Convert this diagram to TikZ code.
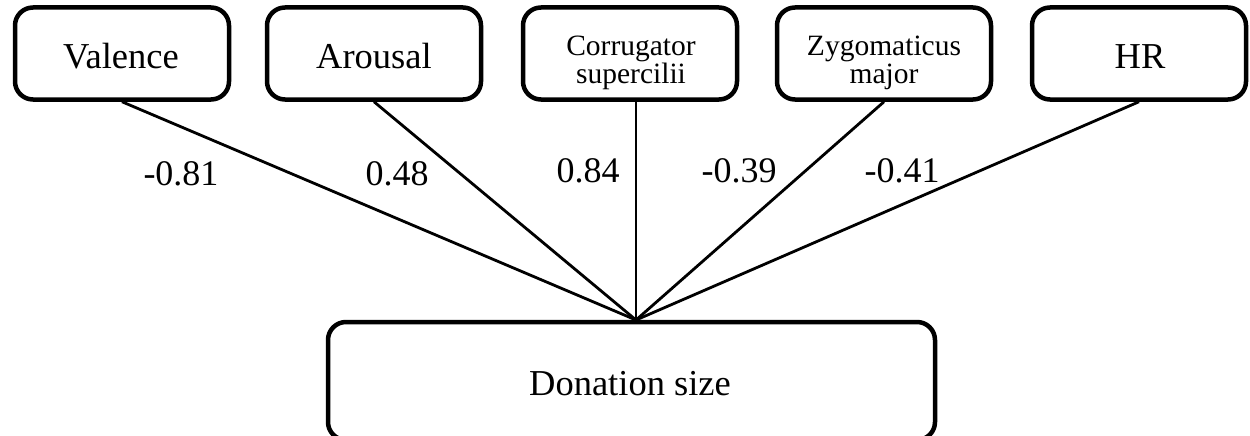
\documentclass[tikz,border=0pt]{standalone}
\usepackage{fontspec}
\setmainfont{Liberation Serif}
\begin{document}
\begin{tikzpicture}[x=1pt,y=-1pt,
  varbox/.style={draw,line width=4.5pt,rounded corners=18pt,inner sep=0pt,
    minimum width=214pt,minimum height=92pt},
  outbox/.style={draw,line width=4.5pt,rounded corners=18pt,inner sep=0pt,
    minimum width=607pt,minimum height=118pt},
  boxtext/.style={inner sep=0pt,anchor=base,font=\fontsize{36.5}{40}\selectfont},
  twoline/.style={inner sep=0pt,anchor=base,align=center,
    font=\fontsize{29.5}{28}\selectfont},
  coef/.style={inner sep=0pt,anchor=base,font=\fontsize{36}{40}\selectfont},
  arm/.style={line width=2.8pt}]
\useasboundingbox (0,0) rectangle (1250,436);

% predictor boxes
\node[varbox] (valence) at (122,53.5) {};
\node[varbox] (arousal) at (374,53.5) {};
\node[varbox] (corr)    at (630,53.5) {};
\node[varbox] (zygo)    at (884,53.5) {};
\node[varbox] (hr)      at (1139,53.5) {};

% outcome box
\node[outbox] (don) at (631.5,381) {};

% box texts (two-line texts are anchored at the baseline of their last line)
\node[boxtext] (valence-t) at (121,68) {Valence};
\node[boxtext] (arousal-t) at (374,68) {Arousal};
\node[twoline] (corr-t) at (631,83) {Corrugator\\supercilii};
\node[twoline] (zygo-t) at (884,83) {Zygomaticus\\major};
\node[boxtext] (hr-t) at (1140,68) {HR};
\node[boxtext] (don-t) at (630,395) {Donation size};

% paths into the outcome
\coordinate (apex) at (636,320);
\draw[arm] (valence.south) -- (apex);
\draw[arm] (arousal.south) -- (apex);
\draw[arm] (corr.south -| apex) -- (apex);
\draw[arm] (zygo.south) -- (apex);
\draw[arm] (hr.south) -- (apex);

% path coefficients
\node[coef] (c1) at (181,185) {-0.81};
\node[coef] (c2) at (397,185) {0.48};
\node[coef] (c3) at (588,182) {0.84};
\node[coef] (c4) at (739,182) {-0.39};
\node[coef] (c5) at (902,182) {-0.41};
\end{tikzpicture}
\end{document}
